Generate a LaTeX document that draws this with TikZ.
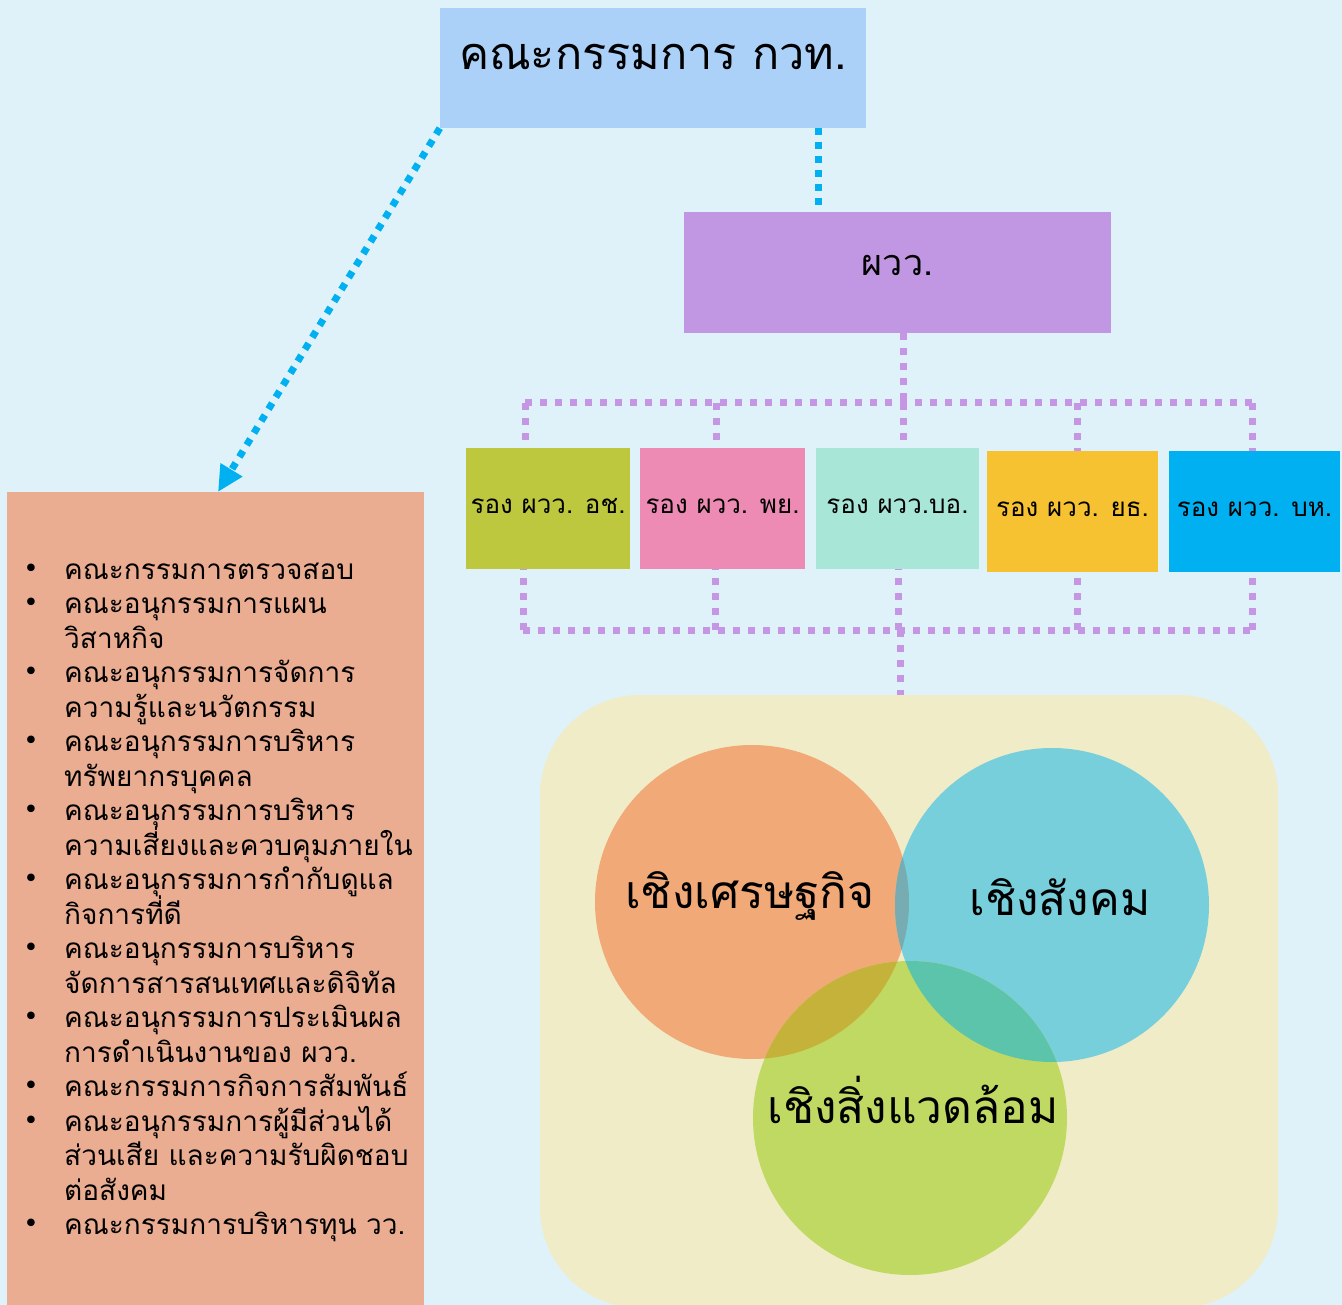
\documentclass[tikz,border=0pt]{standalone}
\usepackage{fontspec}
\newfontfamily\thai[Script=Thai]{Loma}
\newfontfamily\dejavu{DejaVu Sans}
\usetikzlibrary{arrows.meta,calc}
\definecolor{bgc}{RGB}{223,242,250}
\definecolor{titlec}{RGB}{171,209,249}
\definecolor{pvvc}{RGB}{193,150,227}
\definecolor{dotpur}{RGB}{196,150,228}
\definecolor{dotblue}{RGB}{0,176,240}
\definecolor{c1}{RGB}{190,200,63}
\definecolor{c2}{RGB}{238,139,181}
\definecolor{c3}{RGB}{168,230,216}
\definecolor{c4}{RGB}{246,194,50}
\definecolor{c5}{RGB}{0,176,240}
\definecolor{leftc}{RGB}{235,173,145}
\definecolor{beige}{RGB}{240,236,200}
\definecolor{orc}{RGB}{241,169,120}
\definecolor{tec}{RGB}{119,207,220}
\definecolor{grc}{RGB}{192,217,98}
\definecolor{otc}{RGB}{118,172,178}
\definecolor{ogc}{RGB}{196,178,58}
\definecolor{tgc}{RGB}{93,196,172}
\definecolor{otgc}{RGB}{110,175,120}
\tikzset{
  boxnode/.style={rectangle, inner sep=0pt, font=\thai},
  bluedots/.style={draw=dotblue, line width=7pt, dash pattern=on 7pt off 7pt},
  purdots/.style={draw=dotpur, line width=7pt, dash pattern=on 7pt off 8pt},
  subbox/.style={boxnode, minimum height=121pt, text height=22pt, text depth=13pt,
     font=\thai\fontsize{26}{30}\selectfont},
  listtxt/.style={anchor=base west, inner sep=0pt, font=\thai\fontsize{28}{32}\selectfont},
  bul/.style={anchor=base, inner sep=0pt, font=\dejavu\fontsize{26}{30}\selectfont},
  vennlbl/.style={anchor=base, inner sep=0pt, font=\thai\fontsize{46}{50}\selectfont},
}
\begin{document}
\begin{tikzpicture}[x=1pt,y=-1pt]
\fill[bgc] (0,0) rectangle (1342,1305);
\useasboundingbox (0,0) rectangle (1342,1305);

% x positions of connectors
\coordinate (xa) at (818,0);
\coordinate (xarr) at (218,0);
\coordinate (xp) at (903,0);
\coordinate (v1) at (525,0);
\coordinate (v2) at (716,0);
\coordinate (v3) at (903,0);
\coordinate (v4) at (1077,0);
\coordinate (v5) at (1252,0);
\coordinate (w1) at (523,0);
\coordinate (w2) at (715,0);
\coordinate (w3) at (898,0);
\coordinate (w4) at (1077,0);
\coordinate (w5) at (1252,0);
\coordinate (wv) at (900,0);
\coordinate (bus1L) at (525,403);
\coordinate (bus1R) at (1252,403);
\coordinate (bus2L) at (523,630);
\coordinate (bus2R) at (1252,630);
\coordinate (bus1P) at (903,403);
\coordinate (bus2V) at (900,630);

\node[boxnode, fill=titlec, minimum width=426pt, minimum height=120pt,
      text height=40pt, text depth=36pt, font=\thai\fontsize{45}{50}\selectfont]
      (title) at (653,68) {คณะกรรมการ กวท.};
\node[boxnode, fill=pvvc, minimum width=427pt, minimum height=121pt,
      text height=26pt, text depth=19pt, font=\thai\fontsize{36}{40}\selectfont]
      (pvv) at (897.5,272.5) {ผวว.};

% purple tree
\draw[purdots] (pvv.south -| xp) -- (bus1P);
\draw[purdots] (bus1L) -- (bus1R);
\draw[purdots] (bus2L) -- (bus2R);
\foreach \v in {v1,v2,v3,v4,v5} {
  \draw[purdots] (bus1L -| \v) -- ++(0,48);
}
\foreach \w in {w1,w2,w3,w4,w5} {
  \draw[purdots] (bus2L -| \w) -- ++(0,-62);
}

\node[subbox, fill=c1, minimum width=164pt] (s1) at (548,508.5) {รอง ผวว. อช.};
\node[subbox, fill=c2, minimum width=165pt] (s2) at (722.5,508.5) {รอง ผวว. พย.};
\node[subbox, fill=c3, minimum width=163pt] (s3) at (897.5,508.5) {รอง ผวว.บอ.};
\node[subbox, fill=c4, minimum width=171pt] (s4) at (1072.5,511.5) {รอง ผวว. ยธ.};
\node[subbox, fill=c5, minimum width=171pt] (s5) at (1254.5,511.5) {รอง ผวว. บห.};

% venn background
\node[boxnode, fill=beige, rounded corners=100pt, minimum width=738pt, minimum height=613pt]
  (venn) at (909,1001.5) {};
\draw[purdots] (bus2V) -- (venn.north -| wv);

% title -> pvv
\draw[bluedots] (title.south -| xa) -- (pvv.north -| xa);

% left box
\node[boxnode, fill=leftc, minimum width=417pt, minimum height=820pt, anchor=north west]
  (left) at (7,492) {};
\draw[bluedots, -{Triangle[length=26pt,width=24pt]}] (title.south west) -- (left.north -| xarr);

% list
\foreach \t [count=\i] in {คณะกรรมการตรวจสอบ,คณะอนุกรรมการแผน,วิสาหกิจ,คณะอนุกรรมการจัดการ,ความรู้และนวัตกรรม,คณะอนุกรรมการบริหาร,ทรัพยากรบุคคล,คณะอนุกรรมการบริหาร,ความเสี่ยงและควบคุมภายใน,คณะอนุกรรมการกำกับดูแล,กิจการที่ดี,คณะอนุกรรมการบริหาร,จัดการสารสนเทศและดิจิทัล,คณะอนุกรรมการประเมินผล,การดำเนินงานของ ผวว.,คณะกรรมการกิจการสัมพันธ์,คณะอนุกรรมการผู้มีส่วนได้,ส่วนเสีย และความรับผิดชอบ,ต่อสังคม,คณะกรรมการบริหารทุน วว.} {
  \node[listtxt] (l\i) at (64,{579+34.5*(\i-1)}) {\t};
}
\foreach \i in {1,2,4,6,8,10,12,14,16,17,20} {
  \node[bul] (b\i) at (31,{577+34.5*(\i-1)}) {•};
}

% venn circles
\coordinate (co) at (752,902);
\coordinate (ct) at (1052,905);
\coordinate (cg) at (910,1118);
\fill[orc] (co) circle (157);
\fill[tec] (ct) circle (157);
\fill[grc] (cg) circle (157);
\begin{scope}\clip (co) circle (157); \fill[otc] (ct) circle (157); \end{scope}
\begin{scope}\clip (co) circle (157); \fill[ogc] (cg) circle (157); \end{scope}
\begin{scope}\clip (ct) circle (157); \fill[tgc] (cg) circle (157); \end{scope}
\begin{scope}\clip (co) circle (157); \clip (ct) circle (157); \fill[otgc] (cg) circle (157); \end{scope}

\node[vennlbl] (e1) at (750,908) {เชิงเศรษฐกิจ};
\node[vennlbl] (e2) at (1060,915) {เชิงสังคม};
\node[vennlbl] (e3) at (913,1123) {เชิงสิ่งแวดล้อม};
\end{tikzpicture}
\end{document}
